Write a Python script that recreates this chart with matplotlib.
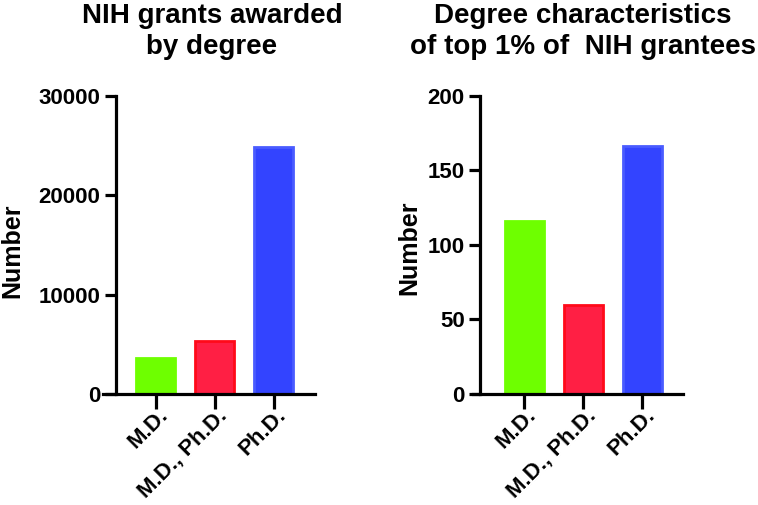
import matplotlib
matplotlib.use("Agg")
import matplotlib.pyplot as plt
from matplotlib.transforms import ScaledTranslation

plt.rcParams['font.family'] = ['Liberation Sans', 'DejaVu Sans']
plt.rcParams['font.weight'] = 'bold'

categories = ["M.D.", "M.D., Ph.D.", "Ph.D."]
grants_values = [3600, 5300, 24800]
top1_values = [116, 60, 166]
fill_colors = ["#6eff00", "#ff1f44", "#3344ff"]
edge_colors = ["#6eff00", "#ff0a1a", "#4a5cff"]

W, H = 758, 505
fig = plt.figure(figsize=(W / 100, H / 100), dpi=100)

def px_axes(x0, x1, ytop, ybot):
    return fig.add_axes([x0 / W, (H - ybot) / H, (x1 - x0) / W, (ybot - ytop) / H])

def style(ax, values, ymax, yticks, xlim, spine_x):
    x = list(range(len(values)))
    ax.bar(x, values, width=0.66, color=fill_colors, edgecolor=edge_colors,
           linewidth=2.0, zorder=2)
    ax.set_xlim(*xlim)
    ax.set_ylim(0, ymax)
    for s in ['top', 'right']:
        ax.spines[s].set_visible(False)
    ax.spines['left'].set_position(('data', spine_x))
    for s in ['left', 'bottom']:
        ax.spines[s].set_linewidth(2.3)
        ax.spines[s].set_zorder(3)
    ax.set_yticks(yticks)
    ax.set_yticklabels([str(t) for t in yticks], fontsize=16, fontweight='bold')
    ax.tick_params(axis='y', length=8, width=2.3, pad=3)
    ax.tick_params(axis='x', length=11, width=2.3, pad=5)
    ax.set_xticks(x)
    ax.set_xticklabels(categories, fontsize=16, fontweight='bold',
                       rotation=45, ha='right', va='baseline',
                       rotation_mode='anchor')
    off = ScaledTranslation(13 / 100, 0, fig.dpi_scale_trans)
    for lab in ax.get_xticklabels():
        lab.set_transform(lab.get_transform() + off)
    ax.patch.set_visible(False)

ax1 = px_axes(103, 315, 95.7, 394)
style(ax1, grants_values, 30000, [0, 10000, 20000, 30000], (-0.887, 2.694), -0.672)
ax2 = px_axes(472.7, 683, 95.7, 394)
style(ax2, top1_values, 200, [0, 50, 100, 150, 200], (-0.873, 2.69), -0.749)

fig.text(212 / W, 1 - 3 / H, "NIH grants awarded\nby degree", ha='center',
         va='top', fontsize=20, fontweight='bold', linespacing=1.25)
fig.text(583 / W, 1 - 3 / H, "Degree characteristics\nof top 1% of  NIH grantees",
         ha='center', va='top', fontsize=20, fontweight='bold', linespacing=1.25)

fig.text(12 / W, 1 - 251 / H, "Number", rotation=90, ha='center', va='center',
         fontsize=18, fontweight='bold')
fig.text(409 / W, 1 - 248 / H, "Number", rotation=90, ha='center', va='center',
         fontsize=18, fontweight='bold')

fig.savefig("out.png", dpi=100)
